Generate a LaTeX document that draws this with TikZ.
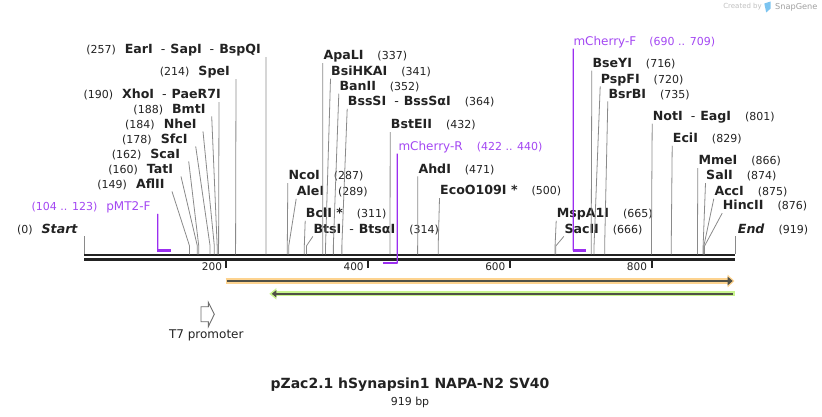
\documentclass[tikz,border=0pt]{standalone}
\usepackage{fontspec}
\setmainfont{DejaVu Sans}
\usetikzlibrary{arrows.meta}

\definecolor{cutgray}{HTML}{8A8A8A}
\definecolor{backbone}{HTML}{222222}
\definecolor{primerpurple}{HTML}{9B2EF0}
\definecolor{primertext}{HTML}{A347F2}
\definecolor{featorange}{HTML}{FDD38F}
\definecolor{featgreen}{HTML}{C8F58E}
\definecolor{featdark}{HTML}{505046}
\definecolor{promgray}{HTML}{6E6E6E}
\definecolor{snapblue}{HTML}{7CC4F0}

\newcommand{\bpx}[1]{84+#1*0.70838}
\newcommand{\cutnum}{\fontsize{11}{13}\selectfont\mdseries\upshape}
\newcommand{\cutname}{\fontsize{12.6}{14}\selectfont\bfseries}
\newcommand{\enzsep}{\hspace{8pt}{\mdseries-}\hspace{5pt}}

\tikzset{
  cutline/.style={draw=cutgray, line width=0.8pt},
  cutlbl/.style={inner sep=0pt, text height=9pt, text depth=2.5pt, text=backbone},
  primerlbl/.style={cutlbl, text=primertext, font=\fontsize{12}{14}\selectfont},
  primerline/.style={draw=primerpurple, line width=1.3pt},
  primerbar/.style={draw=primerpurple, line width=2.2pt},
  strand/.style={draw=backbone},
  tickmark/.style={draw=backbone, line width=2pt},
  ticklbl/.style={inner sep=0pt, font=\fontsize{10.5}{12}\selectfont, text=backbone},
  featbar/.style={line width=5.5pt},
  featcore/.style={draw=featdark, line width=2pt},
}

\begin{document}
\begin{tikzpicture}[x=1pt, y=-1pt]
\useasboundingbox (0,0) rectangle (822,417);

% sequence backbone
\coordinate (bbL) at (84,255.2);
\coordinate (bbR) at (735,255.2);
\draw[strand, line width=1.7pt] (bbL) -- (bbR);
\draw[strand, line width=2.8pt] ([yshift=-4pt]bbL) -- ([yshift=-4pt]bbR);

% ruler
\foreach \t in {200,400,600,800}{
  \coordinate (tk\t) at ({\bpx{\t}+0.8},260.5);
  \draw[tickmark] (tk\t) -- ++(0,7.5);
  \node[ticklbl, anchor=east] (tl\t) at ({\bpx{\t}-3.5},266.7) {\t};
}

% enzymes labelled on the left
\foreach \bp/\tx/\ty/\gap/\txt in {
  257/261/50.7/5/{EarI\enzsep SapI\enzsep BspQI},
  214/230/72.7/6/{SpeI},
  190/221/95.7/-2/{XhoI\enzsep PaeR7I},
  188/205.7/110/6/{BmtI},
  184/196.7/125/6.3/{NheI},
  178/187.7/140/8/{SfcI},
  162/180.3/155/8.4/{ScaI},
  160/173.3/170/7.7/{TatI},
  149/164.7/185/7.3/{AflII}}{
  \coordinate (lk\bp) at ({\bpx{\bp}},246);
  \coordinate (lc\bp) at ({\bpx{\bp}},254.3);
  \node[cutlbl, anchor=east] (L\bp) at (\tx,\ty) {{\cutnum(\bp)}\hspace{9pt}{\cutname\txt}};
  \draw[cutline] (L\bp.south east) ++(\gap,0.5) -- (lk\bp) -- (lc\bp);
}

% enzymes labelled on the right
\foreach \bp/\tx/\ty/\txt in {
  287/288.3/176.7/{NcoI},
  289/296.7/192.3/{AleI},
  311/305.7/214.3/{BclI *},
  314/313.3/230/{BtsI\enzsep BtsαI},
  337/323.3/56.7/{ApaLI},
  341/331/72.3/{BsiHKAI},
  352/339.3/87.3/{BanII},
  364/347.7/102.3/{BssSI\enzsep BssSαI},
  432/390.7/125.7/{BstEII},
  471/418.3/170/{AhdI},
  500/440/191.7/{EcoO109I *},
  665/556.7/214.3/{MspA1I},
  666/564.3/230/{SacII},
  716/592.3/64.3/{BseYI},
  720/600.7/80/{PspFI},
  735/608.3/95/{BsrBI},
  801/652.7/117.3/{NotI\enzsep EagI},
  829/672.7/139.3/{EciI},
  866/698.3/161.7/{MmeI},
  874/706/176.7/{SalI},
  875/714.3/192.3/{AccI},
  876/722.7/206.7/{HincII}}{
  \coordinate (rk\bp) at ({\bpx{\bp}},246);
  \coordinate (rc\bp) at ({\bpx{\bp}},254.3);
  \node[cutlbl, anchor=west] (R\bp) at (\tx,\ty) {{\cutname\txt}\hspace{14pt}{\cutnum(\bp)}};
  \draw[cutline] (R\bp.south west) ++(-0.5,0.5) -- (rk\bp) -- (rc\bp);
}

% ends
\coordinate (bbS) at (84,254.3);
\coordinate (bbE) at (735,254.3);
\node[cutlbl, anchor=east] (Lstart) at (77.7,230) {{\cutnum(0)}\hspace{9pt}{\cutname\itshape Start}};
\draw[cutline] (Lstart.south east) ++(6.3,0.5) -- (bbS);
\node[cutlbl, anchor=west] (Rend) at (737.7,230) {{\cutname\itshape End}\hspace{14pt}{\cutnum(919)}};
\draw[cutline] (Rend.south west) ++(-2.7,0.5) -- (bbE);

% primers
\coordinate (pmA) at ({\bpx{104}},250.5);
\coordinate (pmB) at ({\bpx{123}},250.5);
\node[primerlbl, anchor=east] (pMT2F) at (150.7,207.3) {{\cutnum(104 .. 123)}\hspace{9pt}pMT2-F};
\draw[primerline] (pMT2F.south east) ++(7,0.5) -- (pmA);
\draw[primerbar] ([xshift=-0.6pt]pmA) -- (pmB);

\coordinate (mcrA) at ({\bpx{422}},263);
\coordinate (mcrB) at ({\bpx{440}+1.6},263);
\node[primerlbl, anchor=west] (mChR) at (398.3,147.3) {mCherry-R\hspace{14pt}{\cutnum(422 .. 440)}};
\draw[primerline] (mChR.south west) ++(-1,0.5) -- ([yshift=-0.6pt]mcrB);
\draw[primerbar] (mcrA) -- (mcrB);

\coordinate (mcfA) at ({\bpx{690}+0.5},250.5);
\coordinate (mcfB) at ({\bpx{709}},250.5);
\node[primerlbl, anchor=west] (mChF) at (573.3,42.3) {mCherry-F\hspace{13pt}{\cutnum(690 .. 709)}};
\draw[primerline] (mChF.south west) ++(0,0.5) -- (mcfA);
\draw[primerbar] ([xshift=-0.6pt]mcfA) -- (mcfB);

% features
\coordinate (orL) at ({\bpx{200}},281);
\coordinate (orR) at (734.5,281);
\draw[featbar, featorange, -{Triangle[length=7pt,width=12.5pt]}] (orL) -- (orR);
\draw[featcore, -{Triangle[length=5pt,width=8.3pt]}, shorten <=1.3pt, shorten >=1.8pt] (orL) -- (orR);

\coordinate (grL) at (269.3,293.8);
\coordinate (grR) at (735,293.8);
\draw[featbar, line width=5pt, featgreen, {Triangle[length=7pt,width=11pt]}-] (grL) -- (grR);
\draw[featcore, {Triangle[length=4.5pt,width=7pt]}-, shorten <=2.5pt, shorten >=2.3pt] (grL) -- (grR);

% T7 promoter
\draw[draw=promgray, line width=0.9pt, fill=white] (201,306.7) -- (208.3,306.7) -- (208.3,302.3) -- (214.3,314.3) -- (208.3,326.7) -- (208.3,321.7) -- (201,321.7) -- cycle;
\node[font=\fontsize{12}{14}\selectfont, text=backbone] (t7lbl) at (206.3,335.7) {T7 promoter};

% map name
\node[font=\fontsize{14}{16}\selectfont\bfseries, text=backbone] (mapname) at (410,385) {pZac2.1 hSynapsin1 NAPA-N2 SV40};
\node[font=\fontsize{11}{13}\selectfont, text=backbone] (maplen) at (410,402.3) {919 bp};

% watermark
\node[font=\fontsize{7}{8}\selectfont, text=gray!50, anchor=east, inner sep=0pt] (madeby) at (762,7) {Created by};
\fill[snapblue] (764.3,3.5) -- (770.6,1.5) -- (770.6,8.5) -- (766.2,12.5) -- cycle;
\node[font=\fontsize{8.2}{9}\selectfont, text=gray!75, anchor=west, inner sep=0pt] (sgname) at (775,7) {SnapGene};
\end{tikzpicture}
\end{document}
